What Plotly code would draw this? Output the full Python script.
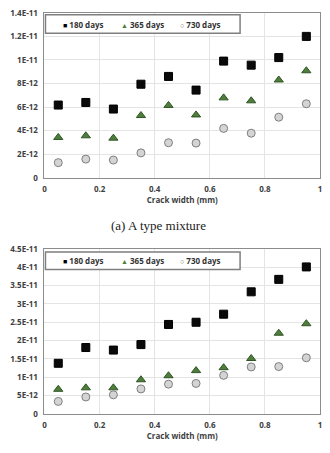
import plotly.graph_objects as go

crack_width = [0.05, 0.15, 0.25, 0.35, 0.45, 0.55, 0.65, 0.75, 0.85, 0.95]

# (a) A type mixture
a_180 = [6.17e-12, 6.39e-12, 5.83e-12, 7.94e-12, 8.6e-12, 7.44e-12, 9.9e-12, 9.56e-12, 10.2e-12, 12.0e-12]
a_365 = [3.42e-12, 3.56e-12, 3.36e-12, 5.28e-12, 6.14e-12, 5.33e-12, 6.78e-12, 6.53e-12, 8.3e-12, 9.08e-12]
a_730 = [1.28e-12, 1.58e-12, 1.5e-12, 2.11e-12, 2.97e-12, 2.94e-12, 4.19e-12, 3.78e-12, 5.14e-12, 6.28e-12]

# (b) lower chart
b_180 = [13.8e-12, 18.1e-12, 17.4e-12, 18.9e-12, 24.4e-12, 25.0e-12, 27.2e-12, 33.3e-12, 36.7e-12, 40.1e-12]
b_365 = [6.7e-12, 7.1e-12, 7.1e-12, 9.3e-12, 10.4e-12, 11.8e-12, 12.6e-12, 15.1e-12, 22.0e-12, 24.6e-12]
b_730 = [3.4e-12, 4.6e-12, 5.2e-12, 6.8e-12, 8.1e-12, 8.3e-12, 10.5e-12, 12.8e-12, 12.9e-12, 15.3e-12]

series_names = ["180 days", "365 days", "730 days"]

a_yticks = [0, 2e-12, 4e-12, 6e-12, 8e-12, 1e-11, 1.2e-11, 1.4e-11]
a_yticktext = ["0", "2E-12", "4E-12", "6E-12", "8E-12", "1E-11", "1.2E-11", "1.4E-11"]
b_yticks = [0, 5e-12, 1e-11, 1.5e-11, 2e-11, 2.5e-11, 3e-11, 3.5e-11, 4e-11, 4.5e-11]
b_yticktext = ["0", "5E-12", "1E-11", "1.5E-11", "2E-11", "2.5E-11", "3E-11", "3.5E-11", "4E-11", "4.5E-11"]
xticks = [0, 0.2, 0.4, 0.6, 0.8, 1]
xticktext = ["0", "0.2", "0.4", "0.6", "0.8", "1"]

caption_a = "(a) A type mixture"
xtitle = "Crack width (mm)"

W, H = 330, 453
colors = ["#0a0a0a", "#4e7d3c", "#d4d4d4"]
edges = ["#000000", "#2f5524", "#7f7f7f"]
symbols = ["square", "triangle-up", "circle"]
legend_glyphs = ["■", "▲", "○"]
legend_glyph_colors = ["#000000", "#4e7d3c", "#707070"]

fig = go.Figure()
for data_list, xa, ya in [((a_180, a_365, a_730), "x", "y"),
                          ((b_180, b_365, b_730), "x2", "y2")]:
    for name, vals, c, e, s in zip(series_names, data_list, colors, edges, symbols):
        fig.add_trace(go.Scatter(x=crack_width, y=vals, mode="markers", name=name,
                                 marker=dict(symbol=s, size=8, color=c, line=dict(color=e, width=1)),
                                 xaxis=xa, yaxis=ya, showlegend=False))

def px_x(p):
    return p / W

def px_y(p):
    return 1 - p / H

tickfont = dict(family="Open Sans", size=8, color="#404040", weight="bold")
axis_common = dict(showline=True, linecolor="#8c8c8c", linewidth=1, mirror=True,
                   showgrid=True, gridcolor="#e4e4e4", gridwidth=1, zeroline=False,
                   tickfont=tickfont, ticks="outside", ticklen=4, tickcolor="rgba(0,0,0,0)")

fig.update_layout(
    width=W, height=H, margin=dict(l=0, r=0, t=0, b=0),
    paper_bgcolor="white", plot_bgcolor="white",
    xaxis=dict(domain=[px_x(43), px_x(322)], range=[0, 1], tickvals=xticks, ticktext=xticktext,
               anchor="y", title=dict(text=xtitle, font=tickfont, standoff=3), **axis_common),
    yaxis=dict(domain=[px_y(176), px_y(7)], range=[0, 1.4e-11], tickvals=a_yticks, ticktext=a_yticktext,
               anchor="x", **axis_common),
    xaxis2=dict(domain=[px_x(43), px_x(322)], range=[0, 1], tickvals=xticks, ticktext=xticktext,
                anchor="y2", title=dict(text=xtitle, font=tickfont, standoff=3), **axis_common),
    yaxis2=dict(domain=[px_y(418), px_y(249)], range=[0, 4.5e-11], tickvals=b_yticks, ticktext=b_yticktext,
                anchor="x2", **axis_common),
    showlegend=False,
)

# legend boxes (one per panel)
glyph_x = [60, 118, 178]
for top, bot in [(9, 28), (252, 270)]:
    fig.add_shape(type="rect", xref="paper", yref="paper",
                  x0=px_x(44), x1=px_x(241), y0=px_y(bot), y1=px_y(top),
                  fillcolor="white", line=dict(color="#7f7f7f", width=1.5), layer="above")
    ymid = px_y((top + bot) / 2)
    for name, g, gc, gx in zip(series_names, legend_glyphs, legend_glyph_colors, glyph_x):
        fig.add_annotation(
            text=f"<span style='color:{gc};font-size:7px'>{g}</span> {name}",
            xref="paper", yref="paper", x=px_x(gx), y=ymid, xanchor="left", yanchor="middle",
            showarrow=False, font=dict(family="Open Sans", size=8, color="#333333", weight="bold"))

fig.add_annotation(text=caption_a, xref="paper", yref="paper", x=px_x(158), y=px_y(225),
                   xanchor="center", yanchor="middle", showarrow=False,
                   font=dict(family="Liberation Serif", size=13, color="#222222"))

fig.write_html("out.html")
